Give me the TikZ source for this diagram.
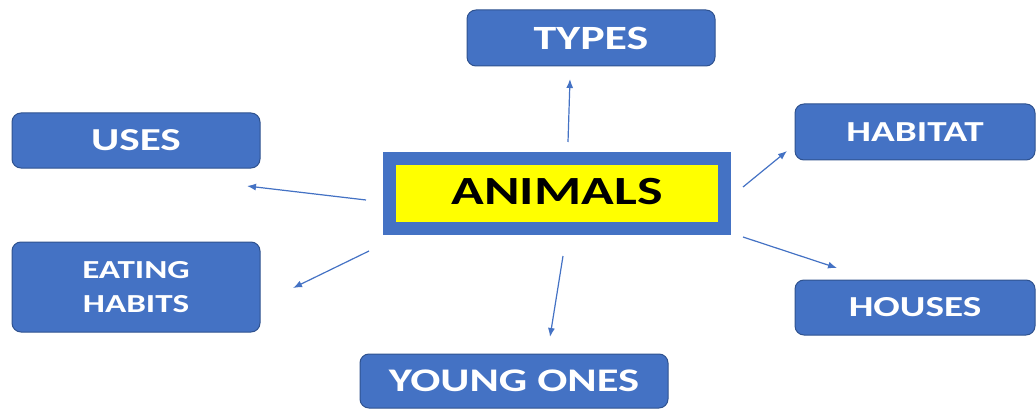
\documentclass[tikz,border=0pt]{standalone}
\usepackage{fontspec}
\usepackage{tikz}
\usetikzlibrary{arrows.meta}
\newfontfamily\boxfont{Carlito}[FakeStretch=1.35]
\definecolor{boxblue}{HTML}{4472C4}
\definecolor{boxedge}{HTML}{2F528F}
\definecolor{centeryellow}{HTML}{FFFF00}
\tikzset{
    topic/.style={draw=boxedge, line width=1pt, fill=boxblue, rounded corners=9pt,
        text=white, align=center, inner sep=0pt, font=\boxfont\bfseries},
    linkarrow/.style={draw=boxblue, line width=1.2pt, -{Latex[length=9pt,width=7pt]}}
}
\newcommand{\fsz}[1]{\fontsize{#1}{34}\selectfont}

\begin{document}
\begin{tikzpicture}[x=1pt, y=-1pt]
    \useasboundingbox (0,0) rectangle (1036,409);

    % Central box
    \node[draw=boxblue, line width=13pt, fill=centeryellow, minimum width=335pt,
        minimum height=70pt, inner sep=0pt, font=\boxfont\bfseries\fsz{40}]
        (animals) at (557,193.5) {\raisebox{4pt}{ANIMALS}};

    % Topics
    \node[topic, minimum width=248pt, minimum height=56pt, font=\boxfont\bfseries\fsz{34}]
        (types) at (591,38) {TYPES};
    \node[topic, minimum width=248pt, minimum height=55pt, font=\boxfont\bfseries\fsz{32}]
        (uses) at (136,140.5) {USES};
    \node[topic, minimum width=248pt, minimum height=90pt, font=\boxfont\bfseries\fsz{26}]
        (eating) at (136,287) {EATING\\HABITS};
    \node[topic, minimum width=308pt, minimum height=54pt, font=\boxfont\bfseries\fsz{33}]
        (young) at (514,381) {YOUNG ONES};
    \node[topic, minimum width=240pt, minimum height=56pt, font=\boxfont\bfseries\fsz{29}]
        (habitat) at (915,132) {HABITAT};
    \node[topic, minimum width=240pt, minimum height=55pt, font=\boxfont\bfseries\fsz{29}]
        (houses) at (915,307.5) {HOUSES};

    % Arrow ends
    \coordinate (types-from) at (568,142);   \coordinate (types-to) at (570,79);
    \coordinate (uses-from) at (366,200);    \coordinate (uses-to) at (247,186);
    \coordinate (eating-from) at (369,251);  \coordinate (eating-to) at (293,288);
    \coordinate (young-from) at (563,256);   \coordinate (young-to) at (550,337);
    \coordinate (habitat-from) at (743,187); \coordinate (habitat-to) at (787,151);
    \coordinate (houses-from) at (743,237);  \coordinate (houses-to) at (837,268);

    % Arrows
    \foreach \t in {types,uses,eating,young,habitat,houses}
        \draw[linkarrow] (\t-from) -- (\t-to);
\end{tikzpicture}
\end{document}
